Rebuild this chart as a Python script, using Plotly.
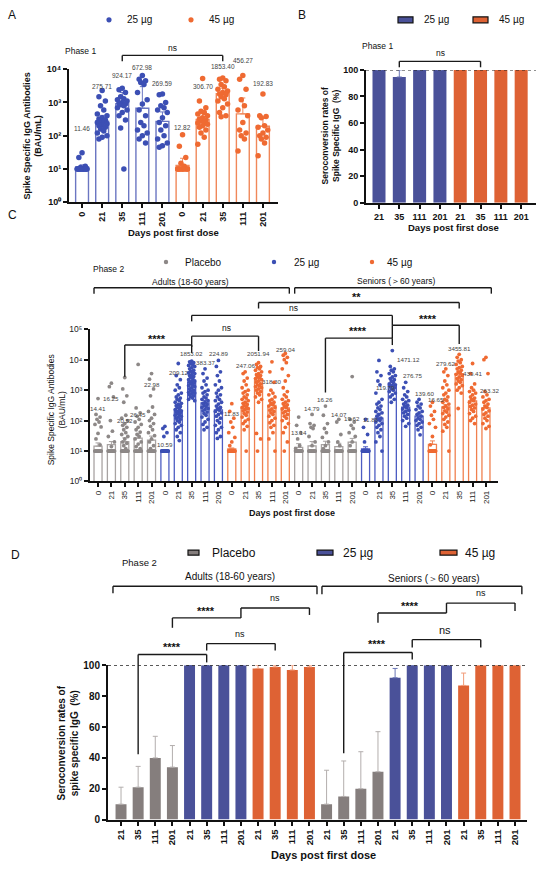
import plotly.graph_objects as go

W, H = 550, 875
FONT = "Liberation Sans, Arial, sans-serif"

BLUE = "#4a5199"
ORANGE = "#de6234"
GRAY = "#857e7d"
BLUE_DOT = "#3c4fb4"
ORANGE_DOT = "#ef6a32"
GRAY_DOT = "#8d8887"

days5 = ["0", "21", "35", "111", "201"]
days4 = ["21", "35", "111", "201"]
pow_labels = ["10⁰", "10¹", "10²", "10³", "10⁴", "10⁵"]

# ---- panel A: phase 1 IgG (BAU/mL), geometric means + individual values
a_mean_25 = [11.46, 275.71, 924.17, 672.98, 269.59]
a_mean_45 = [12.82, 306.70, 1853.40, 456.27, 192.83]
a_err_25 = [13.3, 410, 2000, 3000, 520]
a_err_45 = [21, 460, 2700, 1370, 330]
a_dots_25 = [
    [31, 22, 12, 11, 10, 10, 10, 10, 10, 10, 10, 10, 10, 10, 10, 10, 10, 10],
    [2300, 1500, 1100, 800, 600, 450, 400, 350, 320, 300, 280, 260, 250, 230, 210, 200, 180, 160, 140, 120, 100, 90, 80],
    [2700, 2400, 2000, 1500, 1300, 1200, 1100, 1000, 950, 900, 850, 800, 700, 600, 500, 400, 300, 170, 10],
    [6500, 5000, 4500, 4000, 3500, 2000, 1200, 900, 600, 400, 250, 200, 150, 120, 100, 80, 60],
    [1800, 1700, 1000, 800, 700, 600, 500, 350, 250, 200, 150, 100, 80, 60, 50, 45],
]
a_dots_45 = [
    [107, 48, 22, 15, 12, 10, 10, 10, 10, 10, 10, 10, 10, 10, 10, 10],
    [5300, 1100, 700, 550, 500, 450, 400, 350, 320, 300, 280, 260, 240, 220, 200, 180, 150, 120, 90, 55],
    [5500, 5000, 4500, 3500, 3000, 2500, 2200, 2000, 1800, 1700, 1500, 1300, 1100, 900, 700, 500, 400, 370],
    [6500, 5000, 2500, 1200, 800, 600, 400, 250, 150, 120, 100, 80, 35],
    [1800, 400, 380, 350, 200, 180, 150, 120, 100, 90, 80, 60, 25],
]

# ---- panel B: phase 1 seroconversion (%)
b_rate_25 = [100, 94.7, 100, 100]
b_rate_45 = [100, 100, 100, 100]
b_err_25 = [100, 100, 100, 100]

# ---- panel C: phase 2 IgG (BAU/mL)
c_mean_pl_ad = [14.41, 16.25, 20.52, 26.45, 22.98]
c_mean_25_ad = [10.59, 209.12, 1853.02, 383.37, 224.89]
c_mean_45_ad = [11.83, 247.06, 2051.94, 318.30, 259.04]
c_mean_pl_se = [13.14, 14.79, 16.26, 14.07, 19.62]
c_mean_25_se = [11.86, 119.79, 1471.12, 276.75, 139.60]
c_mean_45_se = [16.65, 279.62, 3455.81, 439.41, 263.32]
c_err_pl_ad = [18.5, 20.5, 27, 37, 31]
c_err_25_ad = [11.2, 250, 2100, 460, 280]
c_err_45_ad = [12.6, 300, 2400, 390, 330]
c_err_pl_se = [17.5, 20.5, 21, 18, 26]
c_err_25_se = [13.8, 170, 1750, 330, 165]
c_err_45_se = [21.5, 340, 3900, 520, 320]

c_dots_pl_ad = [
    [530, 160, 130, 110, 90, 75, 62, 38, 25, 16, 10, 10, 10, 10, 10, 10, 10, 10, 10, 10, 10, 10, 10, 10],
    [1700, 1300, 600, 100, 45, 30, 20, 14, 10, 10, 10, 10, 10, 10, 10, 10, 10, 10, 10, 10, 10, 10],
    [2600, 1100, 650, 400, 150, 120, 100, 80, 70, 60, 50, 40, 35, 30, 25, 20, 18, 15, 12, 10, 10, 10, 10, 10, 10, 10, 10, 10, 10, 10, 10, 10],
    [7000, 260, 180, 140, 110, 90, 75, 60, 50, 42, 35, 30, 25, 20, 17, 14, 12, 10, 10, 10, 10, 10, 10, 10, 10, 10, 10, 10, 10, 10],
    [3500, 2300, 1100, 650, 280, 200, 160, 120, 100, 80, 65, 50, 40, 32, 25, 20, 15, 12, 10, 10, 10, 10, 10, 10, 10, 10, 10, 10, 10],
]
c_dots_25_ad = [
    [65, 55, 40, 30, 10, 10, 10, 10, 10, 10, 10, 10, 10, 10, 10, 10, 10, 10, 10, 10, 10, 10],
    [7500, 3000, 2200, 1500, 1200, 1000, 800, 700, 600, 550, 500, 450, 400, 370, 340, 310, 290, 270, 250, 230,
     210, 200, 190, 180, 170, 160, 150, 140, 130, 120, 110, 100, 90, 80, 70, 60, 50, 40, 30, 22],
    [9000, 8500, 8000, 7500, 7000, 6500, 6000, 5500, 5000, 4500, 4200, 4000, 3700, 3500, 3200, 3000, 2800, 2600,
     2400, 2200, 2000, 1900, 1800, 1700, 1600, 1500, 1400, 1300, 1200, 1100, 1000, 950, 900, 850, 800, 750, 700,
     650, 600, 550, 500, 450],
    [5000, 3500, 2500, 2000, 1500, 1200, 1000, 900, 800, 700, 600, 550, 500, 450, 400, 370, 340, 310, 290, 270,
     250, 230, 210, 190, 170, 150, 130, 110, 90, 75, 60, 50],
    [9500, 6000, 4000, 3000, 2000, 1500, 1200, 1000, 800, 700, 600, 500, 450, 400, 350, 300, 270, 240, 220, 200,
     180, 160, 140, 120, 100, 85, 70, 60, 50, 40, 30, 26],
]
c_dots_45_ad = [
    [360, 200, 120, 90, 60, 40, 28, 20, 15, 10, 10, 10, 10, 10, 10, 10, 10, 10, 10, 10, 10],
    [4000, 3500, 2500, 2000, 1500, 1200, 1000, 900, 800, 700, 600, 550, 500, 450, 400, 370, 340, 310, 290, 270,
     250, 230, 210, 190, 170, 150, 130, 110, 95, 80, 65, 50, 10],
    [8000, 7000, 6000, 5500, 5000, 4500, 4000, 3500, 3200, 3000, 2800, 2600, 2400, 2200, 2000, 1800, 1600, 1500,
     1400, 1300, 1200, 1100, 1000, 900, 800, 700, 600, 500, 400, 38, 25, 10],
    [8500, 4000, 1800, 1000, 800, 700, 600, 500, 450, 400, 360, 330, 300, 270, 240, 220, 200, 180, 160, 140,
     120, 100, 85, 70, 60, 40, 25, 10],
    [16000, 14000, 12000, 10000, 8000, 5000, 3000, 2000, 1200, 900, 700, 600, 500, 450, 400, 360, 330, 300, 270,
     240, 220, 200, 180, 160, 140, 120, 100, 80, 60, 40, 20, 10],
]
c_dots_pl_se = [
    [130, 70, 40, 25, 15, 12, 10, 10, 10, 10, 10, 10, 10, 10, 10, 10, 10, 10, 10, 10, 10],
    [160, 80, 70, 60, 55, 30, 20, 15, 10, 10, 10, 10, 10, 10, 10, 10, 10, 10, 10, 10, 10, 10, 10],
    [300, 150, 80, 55, 40, 28, 20, 15, 12, 10, 10, 10, 10, 10, 10, 10, 10, 10, 10, 10, 10, 10, 10, 10],
    [110, 90, 35, 20, 15, 10, 10, 10, 10, 10, 10, 10, 10, 10, 10, 10, 10, 10, 10, 10],
    [2800, 110, 90, 70, 55, 40, 30, 20, 15, 10, 10, 10, 10, 10, 10, 10, 10, 10, 10, 10, 10, 10, 10, 10],
]
c_dots_25_se = [
    [110, 60, 35, 20, 10, 10, 10, 10, 10, 10, 10, 10, 10, 10, 10, 10, 10, 10, 10, 10, 10, 10, 10, 10],
    [9500, 4000, 3000, 2000, 1500, 800, 500, 400, 350, 300, 260, 230, 200, 180, 160, 140, 120, 110, 100, 90,
     80, 70, 60, 50, 40, 30, 20, 10],
    [20000, 6000, 5000, 4500, 4000, 3500, 3000, 2700, 2400, 2200, 2000, 1800, 1600, 1500, 1400, 1300, 1200,
     1100, 1000, 900, 800, 700, 600, 500, 400],
    [1800, 1200, 900, 700, 600, 500, 450, 400, 350, 320, 290, 260, 240, 220, 200, 180, 160, 140, 120, 100, 80, 65],
    [500, 400, 350, 300, 260, 230, 200, 180, 160, 140, 120, 110, 100, 90, 80, 70, 60, 50, 34],
]
c_dots_45_se = [
    [400, 300, 200, 150, 110, 80, 60, 30, 16, 10, 10, 10, 10, 10, 10, 10, 10, 10, 10, 10, 10, 10, 10, 10],
    [5000, 4000, 3000, 2000, 1500, 1200, 1000, 800, 700, 600, 500, 450, 400, 350, 300, 270, 240, 210, 190, 170,
     150, 130, 110, 90, 75, 60, 45, 10],
    [15000, 12000, 10000, 9000, 8000, 7000, 6000, 5500, 5000, 4500, 4000, 3600, 3300, 3000, 2700, 2400, 2200,
     2000, 1800, 1600, 1400, 1200, 1000, 800, 250],
    [7500, 3500, 1600, 1200, 1000, 900, 800, 700, 600, 550, 500, 450, 400, 350, 320, 290, 260, 230, 200, 170,
     140, 120, 100, 80],
    [12000, 10000, 3500, 900, 700, 600, 500, 450, 400, 350, 300, 270, 240, 210, 180, 160, 140, 120, 100, 80, 65, 55],
]

# ---- panel D: phase 2 seroconversion (%)
d_rate_pl_ad = [10, 21, 40, 34]
d_rate_25_ad = [100, 100, 100, 100]
d_rate_45_ad = [98, 99, 97, 99]
d_rate_pl_se = [10, 15, 20, 31]
d_rate_25_se = [92, 100, 100, 100]
d_rate_45_se = [87, 100, 100, 100]
d_err_pl_ad = [21, 34.5, 54, 48]
d_err_45_ad = [100, 100, 100, 100]
d_err_pl_se = [32, 38, 44, 57]
d_err_25_se = [98, 100, 100, 100]
d_err_45_se = [95, 100, 100, 100]


def X(p):
    return p / W


def Y(p):
    return 1 - p / H


fig = go.Figure()

JIT = [0, -0.16, 0.16, -0.08, 0.08, -0.24, 0.24]


def bars(xs, vals, tops, xa, ya, fill, edge, width, errcol, lw=1.4):
    up = [max(t - v, 0) for t, v in zip(tops, vals)]
    fig.add_trace(go.Bar(
        x=xs, y=vals, xaxis=xa, yaxis=ya, width=width,
        marker=dict(color=fill, line=dict(color=edge, width=lw)),
        error_y=dict(type="data", symmetric=False, array=up, arrayminus=[0] * len(up),
                     color=errcol, thickness=1, width=2.5),
        hoverinfo="skip"))


def dots(x0, groups, xa, ya, color, size, k=1.0):
    xs, ys = [], []
    for g, vals in enumerate(groups):
        for i, v in enumerate(sorted(vals, reverse=True)):
            xs.append(x0 + g + JIT[i % len(JIT)] * k)
            ys.append(v)
    fig.add_trace(go.Scatter(x=xs, y=ys, xaxis=xa, yaxis=ya, mode="markers",
                             marker=dict(color=color, size=size, line_width=0),
                             hoverinfo="skip", cliponaxis=False))


def txt(s, x, y, size, xref="paper", bold=False, color="#111", angle=0, xanchor="center"):
    fig.add_annotation(text=s, x=x if xref != "paper" else X(x), y=Y(y), xref=xref, yref="paper",
                       showarrow=False, textangle=angle, xanchor=xanchor, yanchor="middle",
                       font=dict(family=FONT, size=size, color=color,
                                 weight="bold" if bold else "normal"))


def line(x0, y0, x1, y1, xref, w=1.4):
    fig.add_shape(type="line", x0=x0, x1=x1, y0=Y(y0), y1=Y(y1), xref=xref, yref="paper",
                  line=dict(color="#1a1a1a", width=w))


def bracket(xa, xb, top, lb, rb, xref):
    line(xa, top, xb, top, xref)
    line(xa, top, xa, lb, xref)
    line(xb, top, xb, rb, xref)


def legend_dot(cx, cy, r, color):
    fig.add_shape(type="circle", xref="paper", yref="paper", x0=X(cx - r), x1=X(cx + r),
                  y0=Y(cy + r), y1=Y(cy - r), fillcolor=color, line_width=0)


def legend_box(x0, x1, cy, h, color):
    fig.add_shape(type="rect", xref="paper", yref="paper", x0=X(x0), x1=X(x1),
                  y0=Y(cy + h / 2), y1=Y(cy - h / 2), fillcolor=color,
                  line=dict(color="#111", width=1.2))


STAR = 11

# ======== panel A
bars(list(range(5)), a_mean_25, a_err_25, "x", "y", "white", "#6b76c2", 0.64, "#6b76c2")
bars(list(range(5, 10)), a_mean_45, a_err_45, "x", "y", "white", "#f0885a", 0.64, "#f0885a")
dots(0, a_dots_25, "x", "y", BLUE_DOT, 5.5, 1.0)
dots(5, a_dots_45, "x", "y", ORANGE_DOT, 5.5, 1.0)

a_label_py = [125, 82, 71, 63, 79, 124, 82, 62, 56, 79]
for i, v in enumerate(a_mean_25 + a_mean_45):
    txt(f"{v:.2f}", i, a_label_py[i], 6.5, xref="x", color="#444")

txt("A", 12, 10, 12)
legend_dot(109, 15, 2.6, BLUE_DOT)
txt("25 µg", 125, 15, 10, xanchor="left")
legend_dot(191, 15, 2.6, ORANGE_DOT)
txt("45 µg", 207, 15, 10, xanchor="left")
txt("Phase 1", 80, 47, 8.5)
bracket(2, 7, 51, 57, 57, "x")
txt("ns", 172, 43, 8.5)
txt("Spike Specific IgG Antibodies<br>(BAU/mL)", 33, 133, 9, bold=True, angle=-90)
txt("Days post first dose", 173, 230, 9.5, bold=True)

# ======== panel B
bars(list(range(4)), b_rate_25, b_err_25, "x2", "y2", BLUE, BLUE, 0.64, "#6b76b5", lw=0)
bars(list(range(4, 8)), b_rate_45, b_rate_45, "x2", "y2", ORANGE, ORANGE, 0.64, ORANGE, lw=0)
fig.add_shape(type="line", xref="x2 domain", yref="y2", x0=0, x1=1, y0=100, y1=100,
              line=dict(color="#222", width=1.2, dash="dot"))
txt("B", 302, 10, 12)
legend_box(398, 413, 15, 6, BLUE)
txt("25 µg", 422, 15, 10, xanchor="left")
legend_box(473, 488, 15, 6, ORANGE)
txt("45 µg", 497, 15, 10, xanchor="left")
txt("Phase 1", 377, 41, 8.5)
bracket(1, 5, 57, 63, 63, "x2")
txt("ns", 440, 49, 8.5)
txt("Seroconversion rates of<br>Spike Specific IgG  (%)", 330, 133, 8.5, bold=True, angle=-90)
txt("Days post first dose", 453, 225, 9.5, bold=True)

# ======== panel C
c_groups = [
    (0, c_mean_pl_ad, c_err_pl_ad, c_dots_pl_ad, "#a8a3a2", GRAY_DOT),
    (5, c_mean_25_ad, c_err_25_ad, c_dots_25_ad, "#4d5cc2", BLUE_DOT),
    (10, c_mean_45_ad, c_err_45_ad, c_dots_45_ad, "#f0804f", ORANGE_DOT),
    (15, c_mean_pl_se, c_err_pl_se, c_dots_pl_se, "#a8a3a2", GRAY_DOT),
    (20, c_mean_25_se, c_err_25_se, c_dots_25_se, "#4d5cc2", BLUE_DOT),
    (25, c_mean_45_se, c_err_45_se, c_dots_45_se, "#f0804f", ORANGE_DOT),
]
for x0, m, e, d, edge, dc in c_groups:
    bars(list(range(x0, x0 + 5)), m, e, "x3", "y3", "white", edge, 0.6, edge, lw=1.3)
for x0, m, e, d, edge, dc in c_groups:
    dots(x0, d, "x3", "y3", dc, 3.8, 0.95)

c_label_py = [408, 398, 420, 414, 384,
              445, 372, 353, 362, 353,
              413, 365, 353, 381, 348,
              432, 408, 399, 414, 418,
              419, 387, 359, 375, 393,
              399, 363, 347, 373, 390]
c_label_dx = {20: 0.4, 21: 0.5, 22: 1.2, 23: 0.5, 24: 0.4, 25: 0.3, 29: 0.3}
c_all = c_mean_pl_ad + c_mean_25_ad + c_mean_45_ad + c_mean_pl_se + c_mean_25_se + c_mean_45_se
for i, v in enumerate(c_all):
    txt(f"{v:.2f}", i + c_label_dx.get(i, 0), c_label_py[i], 6.2, xref="x3", color="#444")

txt("C", 12, 212, 12)
legend_dot(166, 260, 2.2, GRAY_DOT)
txt("Placebo", 183, 260, 10, xanchor="left")
legend_dot(274, 260, 2.2, BLUE_DOT)
txt("25 µg", 292, 260, 10, xanchor="left")
legend_dot(372, 260, 2.2, ORANGE_DOT)
txt("45 µg", 385, 260, 10, xanchor="left")
txt("Phase 2", 108, 267, 8.5)
txt("Adults (18-60 years)", 190, 280, 8.5)
txt("Seniors (＞60 years)", 396, 279, 8.5)
bracket(-0.3, 14.3, 286, 292, 292, "x3")
bracket(14.7, 29.4, 286, 292, 292, "x3")
bracket(12, 27, 301, 307, 307, "x3")
txt("**", 356, 295, STAR, bold=True)
bracket(7, 22, 314, 320, 324, "x3")
txt("ns", 293, 306, 8.5)
bracket(22, 27, 324, 337, 343, "x3")
txt("****", 428, 318, STAR, bold=True)
bracket(7, 12, 335, 346, 350, "x3")
txt("ns", 226, 327, 8.5)
bracket(2, 7, 344, 376, 352, "x3")
txt("****", 157, 338, STAR, bold=True)
bracket(17, 22, 337, 392, 344, "x3")
txt("****", 358, 330, STAR, bold=True)
txt("Spike Specific IgG Antibodies<br>(BAU/mL)", 56, 410, 8.5, angle=-90)
txt("Days post first dose", 292, 514, 9, bold=True)

# ======== panel D
d_groups = [
    (0, d_rate_pl_ad, d_err_pl_ad, GRAY, "#b3aead"),
    (4, d_rate_25_ad, d_rate_25_ad, BLUE, BLUE),
    (8, d_rate_45_ad, d_err_45_ad, ORANGE, "#f29b78"),
    (12, d_rate_pl_se, d_err_pl_se, GRAY, "#b3aead"),
    (16, d_rate_25_se, d_err_25_se, BLUE, "#6b76b5"),
    (20, d_rate_45_se, d_err_45_se, ORANGE, "#f29b78"),
]
for x0, r, e, col, ecol in d_groups:
    bars(list(range(x0, x0 + 4)), r, e, "x4", "y4", col, col, 0.64, ecol, lw=0)
fig.add_shape(type="line", xref="x4 domain", yref="y4", x0=0, x1=1, y0=100, y1=100,
              line=dict(color="#222", width=1.2, dash="dot"))

txt("D", 15, 556, 12)
legend_box(188, 199, 554, 5, GRAY)
txt("Placebo", 210, 554, 12, xanchor="left")
legend_box(317, 333, 554, 5, BLUE)
txt("25 µg", 341, 554, 12, xanchor="left")
legend_box(440, 457, 554, 5, ORANGE)
txt("45 µg", 463, 554, 12, xanchor="left")
txt("Phase 2", 139, 564, 9.5)
txt("Adults (18-60 years)", 230, 578, 10)
txt("Seniors (＞60 years)", 434, 580, 10)
bracket(-0.47, 11.44, 588, 595, 596, "x4")
bracket(11.73, 23.4, 588, 596, 596, "x4")
bracket(7, 11, 610, 610, 617, "x4")
txt("ns", 275, 600, 9)
bracket(3, 7, 620, 630, 610, "x4")
txt("****", 206, 613, STAR, bold=True)
bracket(5, 9, 646, 653, 653, "x4")
txt("ns", 240, 636, 9)
bracket(1, 5, 657, 758, 665, "x4")
txt("****", 172, 649, STAR, bold=True)
bracket(19, 23, 605, 605, 613, "x4")
txt("ns", 481, 595, 9)
bracket(15, 19, 615, 625, 605, "x4")
txt("****", 410, 608, STAR, bold=True)
bracket(17, 21, 642, 650, 650, "x4")
txt("ns", 445, 632, 11)
bracket(13, 17, 655, 757, 662, "x4")
txt("****", 377, 646, STAR, bold=True)
txt("Seroconversion rates of<br>spike specific IgG  (%)", 68, 747, 10, bold=True, angle=-90)
txt("Days post first dose", 323, 860, 11, bold=True)

# ======== axes
base = dict(showline=True, linecolor="#111", linewidth=2, ticks="outside", ticklen=4,
            tickwidth=1.5, tickcolor="#111", showgrid=False, zeroline=False, fixedrange=True)
bold9 = dict(family=FONT, size=9, color="#111", weight="bold")

fig.update_layout(
    width=W, height=H, margin=dict(l=0, r=0, t=0, b=0),
    paper_bgcolor="white", plot_bgcolor="rgba(0,0,0,0)",
    showlegend=False, barmode="overlay",
    xaxis=dict(base, domain=[X(69), X(278)], range=[-0.65, 9.75], anchor="y",
               tickmode="array", tickvals=list(range(10)), ticktext=days5 * 2,
               tickangle=-90, tickfont=bold9),
    yaxis=dict(base, domain=[Y(199.5), Y(65)], type="log", range=[0, 4], anchor="x",
               tickmode="array", tickvals=[1, 10, 100, 1000, 10000],
               ticktext=pow_labels[:5], tickfont=bold9),
    xaxis2=dict(base, domain=[X(366), X(536)], range=[-0.64, 7.73], anchor="y2",
                tickmode="array", tickvals=list(range(8)), ticktext=days4 * 2,
                tickangle=0, tickfont=bold9),
    yaxis2=dict(base, domain=[Y(200), Y(65.7)], range=[0, 100], anchor="x2",
                tickmode="array", tickvals=[0, 20, 40, 60, 80, 100], tickfont=bold9),
    xaxis3=dict(base, domain=[X(90), X(498)], range=[-0.6, 29.9], anchor="y3",
                tickmode="array", tickvals=list(range(30)), ticktext=days5 * 6,
                tickangle=-90, tickfont=dict(family=FONT, size=8, color="#222")),
    yaxis3=dict(base, domain=[Y(482), Y(328)], type="log", range=[0, 5], anchor="x3",
                tickmode="array", tickvals=[1, 10, 100, 1000, 10000, 100000],
                ticktext=pow_labels, tickfont=dict(family=FONT, size=8.5, color="#222")),
    xaxis4=dict(base, domain=[X(108), X(527)], range=[-0.76, 23.7], anchor="y4",
                tickmode="array", tickvals=list(range(24)), ticktext=days4 * 6,
                tickangle=-90, tickfont=dict(family=FONT, size=9.5, color="#111", weight="bold")),
    yaxis4=dict(base, domain=[Y(824), Y(668)], range=[0, 100], anchor="x4",
                tickmode="array", tickvals=[0, 20, 40, 60, 80, 100],
                tickfont=dict(family=FONT, size=10, color="#111", weight="bold")),
)

fig.write_html("out.html", config={"displayModeBar": False},
               post_script="document.body.style.margin='0px';")
